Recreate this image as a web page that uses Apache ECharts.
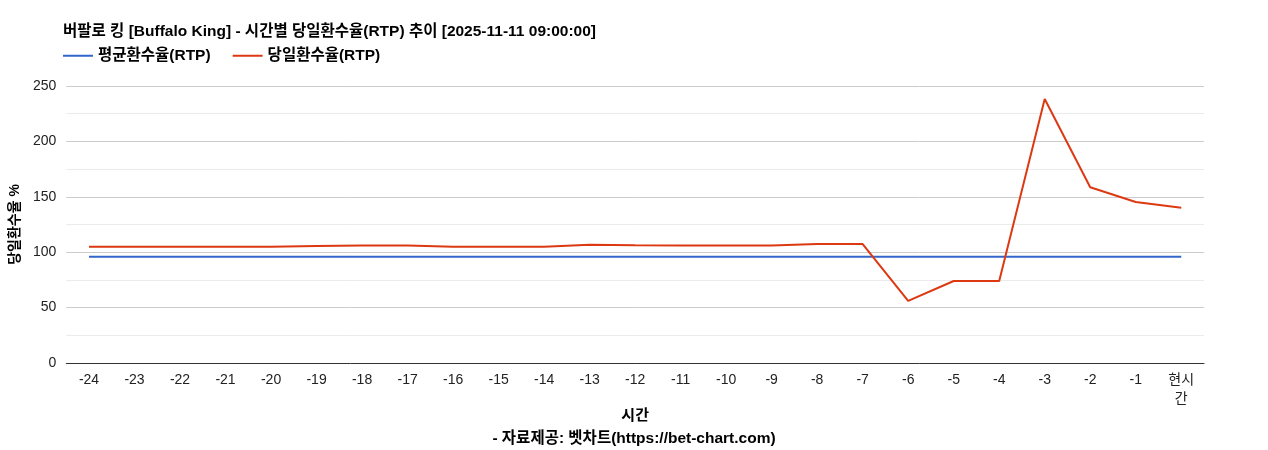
<!DOCTYPE html>
<html lang="ko">
<head>
    <meta charset="UTF-8">
    <title>버팔로 킹 RTP 추이</title>
</head>
<body style="margin: 0; background: #fff">
<div id="container" style="height: 450px; width: 1268px;"></div>
<script type="text/javascript" src="https://cdn.jsdelivr.net/npm/echarts@6/dist/echarts.min.js"></script>
<script type="text/javascript">
    // 시간 축 (24시간 전 ~ 현시간)
    const hours = ['-24', '-23', '-22', '-21', '-20', '-19', '-18', '-17', '-16', '-15', '-14', '-13',
        '-12', '-11', '-10', '-9', '-8', '-7', '-6', '-5', '-4', '-3', '-2', '-1', '현시간'];
    // 평균환수율(RTP)
    const avgRtp = [96, 96, 96, 96, 96, 96, 96, 96, 96, 96, 96, 96,
        96, 96, 96, 96, 96, 96, 96, 96, 96, 96, 96, 96, 96];
    // 당일환수율(RTP)
    const dayRtp = [105, 105, 105, 105, 105, 105.7, 106, 106, 105, 105, 105, 106.7,
        106.2, 106, 106, 106, 107.4, 107.4, 56, 74, 74, 238.3, 158.6, 145.3, 140.2];

    const FONT = '"Liberation Sans", "Noto Sans CJK KR", sans-serif';

    const dom = document.getElementById('container');
    const myChart = echarts.init(dom, null, {renderer: 'canvas'});

    const option = {
        backgroundColor: '#fff',
        color: ['#3366cc', '#dc3912'],
        textStyle: {fontFamily: FONT},
        title: [
            {
                text: '버팔로 킹 [Buffalo King] - 시간별 당일환수율(RTP) 추이 [2025-11-11 09:00:00]',
                left: 58,
                top: 19,
                textStyle: {fontSize: 15.5, fontWeight: 'bold', color: '#000', fontFamily: FONT}
            },
            {
                text: '- 자료제공: 벳차트(https://bet-chart.com)',
                left: 'center',
                top: 426,
                textStyle: {fontSize: 15.5, fontWeight: 'bold', color: '#000', fontFamily: FONT}
            }
        ],
        legend: {
            left: 58,
            top: 43,
            icon: 'rect',
            itemWidth: 30,
            itemHeight: 2,
            itemGap: 22,
            textStyle: {fontSize: 15.5, fontWeight: 'bold', color: '#000', fontFamily: FONT},
            data: ['평균환수율(RTP)', '당일환수율(RTP)']
        },
        grid: {left: 63, right: 64, top: 86, bottom: 87, containLabel: false},
        xAxis: {
            type: 'category',
            data: hours,
            boundaryGap: true,
            name: '시간',
            nameLocation: 'middle',
            nameGap: 45,
            nameMoveOverlap: false,
            nameTextStyle: {fontSize: 15, fontWeight: 'bold', color: '#000', fontFamily: FONT},
            axisLine: {lineStyle: {color: '#333', width: 1}},
            axisTick: {show: false},
            axisLabel: {
                interval: 0,
                fontSize: 14,
                color: '#222',
                margin: 8,
                lineHeight: 19,
                formatter: function (value) {
                    return value === '현시간' ? '현시\n간' : value;
                }
            }
        },
        yAxis: {
            type: 'value',
            min: 0,
            max: 250,
            interval: 50,
            name: '당일환수율 %',
            nameLocation: 'middle',
            nameGap: 40,
            nameTextStyle: {fontSize: 14, fontWeight: 'bold', color: '#000', fontFamily: FONT},
            axisLine: {show: false},
            axisTick: {show: false},
            axisLabel: {fontSize: 14, color: '#222', margin: 10},
            splitLine: {lineStyle: {color: '#cccccc', width: 1}},
            minorTick: {show: false, splitNumber: 2},
            minorSplitLine: {show: true, lineStyle: {color: '#ebebeb', width: 1}}
        },
        series: [
            {
                name: '평균환수율(RTP)',
                type: 'line',
                data: avgRtp,
                symbol: 'none',
                lineStyle: {width: 2},
                animation: false
            },
            {
                name: '당일환수율(RTP)',
                type: 'line',
                data: dayRtp,
                symbol: 'none',
                lineStyle: {width: 2},
                animation: false
            }
        ]
    };
    myChart.setOption(option);
</script>
</body>
</html>
